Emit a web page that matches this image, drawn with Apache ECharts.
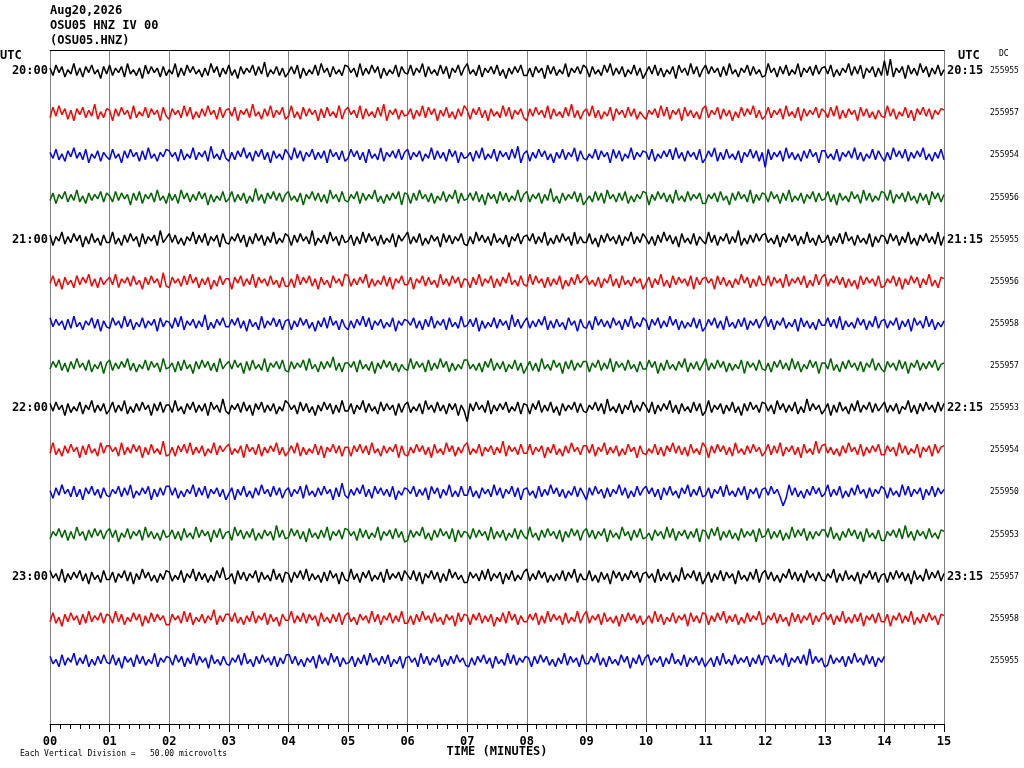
<!DOCTYPE html>
<html>
<head>
<meta charset="utf-8">
<title>OSU05 HNZ IV 00</title>
<script src="https://cdn.jsdelivr.net/npm/echarts@6.0.0/dist/echarts.min.js"></script>
<style>
  html, body { margin: 0; padding: 0; background: #fff; }
  #chart { width: 1024px; height: 768px; }
</style>
</head>
<body>
<div id="chart"></div>
<script>
// 标签
const minuteLabels = ['00', '01', '02', '03', '04', '05', '06', '07', '08', '09', '10', '11', '12', '13', '14', '15'];
const leftRowLabels = ['20:00', '', '', '', '21:00', '', '', '', '22:00', '', '', '', '23:00', '', '', ''];
const rightRowLabels = ['20:15', '', '', '', '21:15', '', '', '', '22:15', '', '', '', '23:15', '', '', ''];
const dcValues = ['255955', '255957', '255954', '255956', '255955', '255956', '255958', '255957',
    '255953', '255954', '255950', '255953', '255957', '255958', '255955', ''];
const traceColors = ['#000000', '#ff0000', '#0000ff', '#006400'];
// 每行时长（分钟）
const rowMinutes = [15, 15, 15, 15, 15, 15, 15, 15, 15, 15, 15, 15, 15, 15, 14];
// 每行间距对应的计数
const COUNTS_PER_ROW = 28;

// 各行振幅（读图估计，约每3秒一个点）
const row00 = [2,-3,4,-1,3,-4,1,-2,5,-3,2,-4,3,-1,4,-2,1,-5,3,-2,
    4,-3,2,-1,3,-4,5,-2,1,-3,2,-5,4,-2,3,-1,2,-4,3,-3,
    1,-2,5,-4,2,-3,4,-1,3,-2,1,-4,2,-3,5,-1,3,-4,2,-2,
    4,-3,1,-5,3,-2,2,-1,4,-3,3,-2,6,-4,1,-2,3,-3,2,-4,
    -1,3,-2,4,-5,2,-3,1,-2,4,-3,5,-1,2,-4,3,-2,1,-3,4,
    3,-1,2,-4,5,-3,2,-2,4,-1,3,-5,2,-3,1,-2,4,-4,3,-1,
    -2,4,-3,2,-1,5,-4,3,-2,1,-3,4,-2,3,-5,2,-1,4,-3,2,
    5,-2,1,-3,4,-4,2,-1,3,-2,4,-3,1,-5,2,-2,3,-1,4,-3,
    -3,2,-4,3,-1,2,-5,4,-2,3,-3,1,-2,5,-4,2,-1,3,-2,4,
    2,-4,3,-2,1,-3,4,-1,5,-3,2,-2,3,-4,1,-2,4,-3,2,-5,
    -1,3,-2,4,-3,2,-4,1,-2,3,-5,4,-1,2,-3,5,-2,3,-4,1,
    4,-2,3,-1,2,-4,3,-3,5,-2,1,-4,2,-1,4,-3,3,-2,1,-4,
    -3,5,-1,2,-4,3,-2,4,-3,1,-2,5,-4,2,-1,3,-3,4,-2,2,
    3,-2,4,-4,1,-3,2,-1,5,-3,3,-2,4,-5,2,-1,3,-4,2,-3,
    7,-3,8,-4,2,-1,3,-5,4,-2,2,-3,5,-1,3,-4,2,-2,4,-3,1];
const row01 = [-3,4,-2,5,-1,3,-4,2,-5,3,-1,4,-3,2,-2,6,-4,1,-3,3,
    2,-5,3,-2,4,-1,2,-4,5,-3,1,-2,4,-3,3,-1,2,-5,4,-2,
    -4,3,-1,2,-3,5,-2,4,-4,1,-3,3,-2,5,-1,2,-4,4,-3,2,
    3,-2,4,-5,2,-1,3,-3,6,-2,1,-4,3,-2,5,-3,2,-1,4,-4,
    -2,5,-3,1,-4,4,-2,3,-1,2,-5,3,-3,4,-2,1,-3,5,-4,2,
    4,-1,2,-3,5,-4,3,-2,1,-3,4,-2,6,-5,2,-1,3,-4,2,-2,
    -1,3,-4,2,-2,5,-3,4,-1,3,-5,2,-2,4,-3,1,-4,3,-2,5,
    2,-4,3,-1,4,-3,2,-5,3,-2,1,-3,5,-2,4,-4,2,-1,3,-3,
    -5,3,-2,4,-1,2,-3,5,-4,3,-2,1,-3,4,-2,6,-3,2,-4,1,
    3,-2,5,-3,2,-4,1,-2,4,-5,3,-1,2,-3,4,-2,3,-4,1,-2,
    -4,2,-1,3,-3,5,-2,4,-4,2,-1,3,-5,4,-2,2,-3,1,-4,3,
    5,-3,2,-1,4,-4,3,-2,2,-5,1,-3,4,-2,3,-1,5,-3,2,-4,
    -2,4,-3,2,-1,3,-4,5,-2,1,-3,4,-5,3,-2,2,-1,4,-3,3,
    1,-3,4,-2,5,-4,2,-3,3,-1,2,-5,4,-2,3,-3,1,-4,2,-2,
    -3,5,-2,3,-4,1,-2,4,-3,2,-5,3,-1,4,-2,3,-4,2,-1,3,2];
const row02 = [2,-2,4,-3,1,-4,3,-1,5,-2,2,-3,4,-5,1,-2,3,-4,2,-1,
    -3,4,-2,1,-5,3,-2,4,-1,2,-4,3,-3,5,-2,1,-4,2,-1,4,
    3,-1,2,-4,4,-3,1,-2,5,-3,2,-1,3,-4,6,-2,1,-3,4,-2,
    -4,2,-3,3,-1,5,-2,2,-4,3,-1,4,-3,2,-5,3,-2,1,-3,4,
    1,-3,5,-2,3,-4,2,-1,4,-3,2,-2,3,-5,4,-1,2,-3,3,-4,
    -2,4,-1,3,-3,2,-5,4,-2,1,-3,5,-4,2,-1,3,-2,4,-3,2,
    4,-3,2,-1,3,-4,1,-2,5,-3,3,-2,2,-4,4,-1,3,-5,2,-2,
    -1,2,-4,3,-2,5,-3,1,-2,4,-4,3,-1,2,-3,4,-2,6,-5,1,
    3,-4,2,-2,4,-1,3,-3,1,-5,2,-2,4,-3,2,-1,5,-4,3,-2,
    -3,1,-2,4,-3,3,-1,2,-5,4,-2,3,-4,1,-2,5,-3,2,-1,3,
    2,-3,4,-4,1,-2,3,-1,4,-3,5,-2,2,-4,3,-1,2,-3,4,-5,
    -2,3,-1,5,-4,2,-3,4,-2,1,-3,3,-5,2,-1,4,-2,3,-4,2,
    -8,4,-3,2,-1,3,-4,5,-2,2,-3,1,-4,3,-2,4,-1,2,-5,3,
    3,-2,1,-3,4,-4,2,-1,3,-2,5,-3,2,-4,1,-2,4,-3,3,-1,
    -4,2,-3,5,-1,3,-2,4,-4,2,-2,3,-1,5,-3,1,-4,2,-2,4,-3];
const row03 = [-2,3,-4,2,-1,4,-3,2,-2,5,-3,1,-4,3,-2,2,-1,4,-3,3,
    1,-3,4,-2,3,-1,2,-5,3,-2,4,-4,2,-1,3,-3,5,-2,1,-4,
    3,-2,2,-4,5,-1,3,-3,2,-2,4,-1,3,-5,2,-3,1,-2,4,-3,
    -1,4,-3,2,-2,3,-4,1,-3,6,-2,2,-4,3,-1,4,-2,3,-3,2,
    4,-2,1,-3,3,-5,2,-1,4,-2,3,-3,2,-4,5,-1,2,-3,4,-2,
    -3,2,-1,4,-4,3,-2,2,-1,5,-3,1,-4,2,-2,3,-1,4,-5,3,
    2,-4,3,-2,5,-1,2,-3,3,-4,1,-2,4,-3,2,-1,5,-4,3,-2,
    -1,3,-2,4,-3,2,-5,3,-1,2,-4,4,-2,3,-3,1,-2,5,-3,2,
    4,-3,2,-1,3,-4,2,-2,6,-3,1,-4,3,-2,2,-1,4,-3,3,-5,
    -2,1,-3,4,-2,3,-4,5,-1,2,-3,3,-2,4,-4,1,-3,2,-1,4,
    3,-5,2,-2,4,-1,3,-3,2,-4,5,-2,1,-3,4,-2,2,-1,3,-4,
    -4,2,-1,3,-3,4,-2,1,-5,3,-2,4,-1,2,-3,5,-4,2,-2,3,
    2,-3,4,-1,2,-4,3,-2,5,-3,1,-2,3,-4,2,-1,4,-3,3,-2,
    -1,4,-3,2,-5,3,-2,1,-3,4,-1,2,-4,5,-2,3,-3,1,-2,4,
    3,-2,5,-4,2,-1,3,-3,4,-2,1,-4,3,-2,2,-5,4,-1,3,-3,2];
const row04 = [3,-4,2,-1,5,-3,2,-2,4,-1,3,-5,2,-3,4,-2,1,-4,3,-2,
    -2,5,-3,1,-4,3,-2,4,-1,2,-5,4,-3,2,-1,3,-4,6,-2,1,
    4,-2,3,-3,1,-4,2,-1,5,-3,3,-2,4,-4,2,-1,3,-5,4,-2,
    -3,2,-1,4,-2,3,-5,2,-3,4,-1,3,-4,2,-2,5,-3,1,-2,4,
    2,-4,3,-2,4,-1,2,-3,6,-4,1,-2,3,-3,5,-1,2,-4,3,-2,
    -1,3,-4,2,-3,5,-2,4,-1,2,-4,3,-3,1,-2,4,-5,3,-1,2,
    5,-3,2,-2,4,-4,1,-3,3,-1,2,-5,4,-2,3,-3,2,-1,4,-3,
    -4,2,-3,5,-1,3,-2,2,-4,4,-2,1,-3,3,-5,2,-1,4,-3,2,
    3,-1,4,-3,2,-2,5,-4,1,-3,3,-2,4,-1,2,-4,5,-3,2,-2,
    -2,4,-3,1,-5,3,-2,4,-1,2,-3,3,-4,2,-1,5,-3,2,-2,4,
    1,-3,2,-4,3,-2,5,-1,3,-3,2,-5,4,-2,1,-3,4,-4,2,-1,
    -3,5,-2,3,-4,2,-1,4,-3,2,-2,6,-4,1,-3,3,-2,4,-1,3,
    4,-2,1,-3,3,-5,2,-2,4,-1,3,-4,2,-3,5,-2,1,-4,3,-2,
    -1,3,-4,2,-2,4,-3,5,-1,2,-4,3,-2,1,-3,4,-5,2,-2,3,
    2,-3,4,-1,3,-4,2,-2,5,-3,1,-4,3,-1,4,-2,2,-3,5,-4,2];
const row05 = [-1,4,-3,2,-5,3,-2,1,-4,4,-2,3,-1,5,-3,2,-4,3,-2,1,
    3,-2,5,-4,2,-1,3,-3,4,-2,1,-5,3,-2,4,-1,2,-4,6,-3,
    -4,3,-1,2,-3,4,-2,5,-1,3,-4,2,-2,3,-5,1,-3,4,-2,2,
    2,-5,3,-1,4,-3,2,-2,5,-4,3,-1,2,-3,4,-2,1,-4,3,-3,
    -3,2,-4,5,-2,3,-1,4,-3,2,-5,3,-2,1,-4,4,-1,2,-3,5,
    4,-3,2,-2,3,-1,5,-4,2,-3,1,-2,4,-3,3,-5,2,-1,4,-2,
    -2,3,-5,2,-1,4,-3,3,-2,1,-4,5,-2,2,-3,4,-1,3,-4,2,
    1,-4,3,-2,5,-3,2,-1,4,-4,2,-3,3,-1,6,-2,1,-3,4,-2,
    -3,5,-2,4,-1,2,-4,3,-3,2,-2,4,-5,1,-3,3,-2,5,-1,2,
    4,-2,1,-3,3,-4,2,-1,5,-3,2,-4,4,-2,1,-3,3,-1,2,-5,
    -1,3,-4,2,-2,5,-3,1,-4,4,-2,3,-1,2,-3,4,-5,3,-2,2,
    3,-1,2,-5,4,-2,3,-3,1,-4,2,-2,5,-1,3,-4,2,-3,4,-2,
    -2,4,-3,3,-1,2,-4,5,-3,2,-1,3,-2,4,-4,1,-3,5,-2,3,
    5,-3,2,-1,4,-2,3,-4,2,-3,1,-5,4,-2,3,-1,2,-3,4,-4,
    -3,2,-1,4,-3,3,-5,2,-2,4,-1,3,-4,2,-2,5,-3,1,-4,3,2];
const row06 = [4,-2,3,-1,2,-4,3,-3,5,-2,1,-4,2,-1,4,-3,3,-5,2,-2,
    -3,4,-1,2,-3,5,-2,3,-4,1,-2,4,-3,2,-1,3,-5,4,-2,2,
    1,-3,4,-2,5,-4,2,-1,3,-3,2,-2,6,-4,1,-3,3,-1,4,-2,
    -2,3,-1,4,-3,2,-5,3,-2,1,-4,5,-3,2,-1,4,-2,3,-4,2,
    3,-4,2,-2,4,-1,3,-3,1,-5,2,-2,4,-3,5,-1,2,-4,3,-2,
    -4,2,-3,3,-1,5,-2,4,-4,2,-1,3,-3,1,-2,4,-5,2,-1,3,
    2,-1,4,-3,2,-4,3,-2,5,-3,2,-1,3,-4,4,-2,1,-3,5,-2,
    -1,3,-2,4,-5,2,-3,1,-2,4,-3,3,-1,2,-4,6,-2,3,-3,1,
    4,-3,2,-2,3,-1,5,-4,2,-3,3,-2,1,-4,4,-1,2,-5,3,-2,
    -3,2,-4,5,-1,3,-2,2,-3,4,-1,2,-4,3,-2,5,-3,1,-2,4,
    2,-4,3,-1,4,-3,2,-2,5,-1,3,-4,2,-3,1,-2,4,-3,3,-5,
    -2,3,-1,4,-3,2,-4,5,-2,1,-3,3,-2,4,-4,2,-1,3,-3,2,
    5,-2,3,-4,2,-1,4,-3,1,-2,3,-5,4,-2,2,-3,1,-4,3,-1,
    -1,4,-2,3,-3,5,-4,2,-2,1,-3,4,-1,3,-4,2,-2,5,-3,2,
    3,-3,2,-1,4,-4,2,-2,3,-5,4,-1,2,-3,5,-2,3,-4,1,-2,2];
const row07 = [-2,3,-1,4,-3,2,-4,3,-2,5,-1,2,-3,4,-4,1,-2,3,-5,2,
    4,-3,2,-2,3,-1,5,-3,2,-4,1,-2,4,-3,3,-1,2,-4,5,-2,
    -1,2,-4,3,-3,4,-2,1,-5,3,-2,4,-1,3,-3,2,-4,5,-2,1,
    3,-2,4,-1,2,-5,3,-3,4,-2,1,-3,5,-4,2,-1,3,-2,4,-3,
    -4,3,-2,2,-1,4,-3,5,-2,1,-4,3,-2,3,-1,6,-3,2,-4,2,
    2,-1,3,-4,4,-2,1,-3,3,-5,2,-2,4,-1,3,-3,2,-4,1,-2,
    -3,5,-2,3,-1,2,-4,4,-3,2,-2,5,-1,3,-4,2,-3,1,-2,4,
    4,-2,1,-3,2,-4,3,-1,5,-3,2,-2,3,-4,1,-2,4,-3,2,-5,
    -1,3,-3,2,-4,5,-2,1,-3,4,-1,2,-5,3,-2,4,-3,2,-1,3,
    3,-4,2,-1,4,-3,2,-2,5,-4,3,-1,2,-3,4,-2,1,-4,3,-2,
    -2,4,-1,3,-5,2,-3,4,-2,1,-3,3,-1,5,-4,2,-2,3,-3,1,
    5,-3,2,-2,4,-1,3,-4,2,-3,1,-2,4,-5,3,-1,2,-3,4,-2,
    -3,2,-4,3,-1,4,-2,2,-3,5,-2,3,-4,1,-2,4,-1,3,-5,2,
    2,-2,5,-3,1,-4,3,-2,4,-1,2,-3,3,-4,2,-1,5,-3,2,-2,
    -4,3,-1,2,-3,4,-2,3,-5,2,-1,4,-3,2,-2,3,-1,4,-3,1,2];
const row08 = [3,-2,4,-1,2,-5,3,-3,1,-2,4,-4,2,-1,5,-3,2,-2,3,-4,
    -1,4,-3,2,-2,5,-4,1,-3,3,-2,4,-1,2,-5,3,-2,4,-3,2,
    2,-3,5,-2,1,-4,3,-1,4,-3,2,-2,3,-5,4,-1,2,-3,6,-2,
    -4,2,-1,3,-3,4,-2,2,-5,3,-1,4,-3,2,-2,3,-4,1,-2,5,
    3,-1,2,-4,4,-2,3,-3,1,-5,2,-2,4,-1,3,-4,2,-3,5,-2,
    -2,3,-4,2,-1,5,-3,3,-2,1,-4,4,-2,3,-1,2,-5,3,-3,2,
    4,-3,1,-2,3,-4,5,-1,2,-3,4,-2,2,-4,3,-1,3,-5,2,-2,
    -9,3,-2,4,-1,2,-3,5,-4,2,-2,3,-1,4,-3,1,-2,4,-4,3,
    2,-4,3,-1,5,-3,2,-2,4,-3,1,-5,3,-2,2,-1,4,-3,3,-2,
    -3,2,-1,4,-2,3,-4,6,-2,1,-3,3,-4,2,-1,5,-3,2,-2,4,
    1,-3,4,-4,2,-2,3,-1,5,-3,2,-4,3,-2,1,-3,4,-2,3,-5,
    -2,5,-3,2,-1,3,-4,2,-2,4,-3,1,-5,3,-2,4,-1,2,-3,4,
    3,-2,2,-4,5,-1,3,-3,2,-2,4,-4,1,-3,6,-2,3,-1,2,-4,
    -1,3,-5,2,-3,4,-2,1,-4,3,-2,5,-3,2,-1,4,-3,3,-2,1,
    4,-3,2,-2,3,-4,1,-1,5,-3,2,-4,3,-2,4,-1,2,-3,4,-2,3];
const row09 = [-2,5,-3,1,-4,3,-2,4,-1,2,-5,3,-3,4,-2,1,-4,5,-2,3,
    3,-1,2,-4,5,-3,2,-2,4,-1,3,-5,2,-3,4,-2,1,-3,6,-4,
    -3,2,-4,3,-1,4,-2,5,-3,2,-2,3,-4,1,-2,5,-3,3,-1,2,
    4,-3,1,-2,3,-5,4,-1,2,-3,4,-4,2,-2,3,-1,5,-3,2,-4,
    -1,3,-2,5,-4,2,-3,1,-2,4,-3,3,-5,2,-1,4,-2,3,-4,2,
    2,-4,3,-1,4,-2,3,-3,5,-2,1,-4,3,-2,2,-1,4,-5,3,-3,
    -4,2,-2,4,-1,3,-3,2,-5,4,-2,1,-3,5,-1,3,-4,2,-2,3,
    5,-3,1,-2,4,-4,2,-1,3,-3,2,-2,6,-4,3,-1,2,-3,4,-2,
    -2,4,-3,2,-1,3,-5,2,-2,4,-3,1,-4,3,-2,5,-1,2,-3,3,
    3,-2,4,-4,2,-1,5,-3,2,-2,3,-4,1,-3,4,-1,2,-5,3,-2,
    -3,1,-2,4,-3,2,-4,3,-1,5,-2,3,-3,2,-4,4,-2,1,-3,5,
    2,-5,3,-2,4,-1,3,-3,2,-4,5,-2,1,-3,3,-2,4,-1,2,-4,
    -1,4,-3,3,-2,5,-4,2,-1,3,-3,2,-5,4,-2,1,-3,6,-2,3,
    4,-2,2,-3,1,-4,3,-2,5,-1,2,-3,4,-4,2,-2,3,-1,4,-3,
    -3,3,-1,2,-4,5,-2,3,-3,1,-2,4,-5,2,-1,3,-4,4,-2,2,3];
const row10 = [1,-4,3,-2,5,-1,2,-3,4,-3,2,-5,3,-1,4,-2,2,-4,3,-2,
    -3,2,-1,4,-3,3,-2,5,-4,1,-2,3,-1,4,-5,2,-3,3,-2,4,
    4,-2,3,-4,1,-3,2,-1,5,-3,3,-2,4,-4,2,-1,3,-3,2,-5,
    -1,3,-5,2,-2,4,-3,1,-4,3,-2,5,-1,2,-3,4,-2,3,-4,1,
    3,-3,2,-1,4,-4,5,-2,1,-3,3,-2,4,-1,2,-5,3,-3,6,-2,
    -4,2,-2,3,-1,5,-3,2,-4,4,-1,3,-2,2,-3,4,-5,1,-2,3,
    2,-1,4,-3,2,-2,3,-5,4,-1,3,-4,2,-2,5,-3,1,-3,4,-2,
    -2,4,-3,1,-4,3,-1,2,-3,5,-2,3,-4,2,-1,4,-3,3,-5,2,
    3,-2,1,-4,4,-3,2,-2,5,-1,3,-3,2,-4,1,-2,4,-3,3,-1,
    -5,3,-2,4,-1,2,-4,3,-3,2,-1,5,-2,3,-4,1,-3,4,-2,2,
    4,-1,3,-3,2,-5,3,-2,4,-2,1,-4,3,-1,5,-3,2,-2,4,-3,
    -2,3,-4,2,-1,4,-3,5,-2,1,-3,3,-2,4,-5,2,-1,3,-4,2,
    3,-2,4,-1,2,-3,-9,-4,5,-2,3,-3,1,-4,2,-2,4,-1,3,-3,
    -1,5,-3,2,-2,4,-4,1,-3,3,-2,5,-1,2,-4,3,-3,2,-1,4,
    2,-4,3,-2,1,-3,5,-2,4,-3,2,-1,3,-5,2,-2,4,-3,3,-1,2];
const row11 = [-3,2,-1,4,-2,3,-4,2,-3,5,-1,2,-4,3,-2,4,-1,3,-3,2,
    4,-2,3,-5,1,-2,4,-3,2,-1,3,-4,5,-2,2,-3,1,-4,3,-2,
    -1,3,-3,2,-4,4,-2,1,-3,5,-2,3,-1,2,-5,3,-2,4,-3,1,
    2,-4,5,-1,3,-3,2,-2,4,-4,1,-3,3,-1,2,-4,6,-2,3,-3,
    -2,4,-1,3,-3,2,-5,4,-2,1,-3,3,-2,5,-4,2,-1,3,-3,4,
    3,-1,2,-4,4,-2,3,-3,1,-2,5,-4,2,-1,3,-3,4,-2,2,-5,
    -4,3,-2,2,-1,5,-3,1,-4,3,-2,4,-1,2,-3,4,-5,3,-2,2,
    1,-3,4,-2,3,-1,2,-4,5,-3,2,-2,3,-4,1,-2,4,-3,3,-1,
    -3,5,-2,1,-4,3,-2,4,-1,2,-3,3,-5,2,-2,4,-1,3,-4,2,
    4,-2,3,-3,2,-1,4,-5,3,-2,1,-3,5,-1,2,-4,3,-2,4,-3,
    -2,1,-4,3,-1,2,-3,5,-2,4,-4,2,-1,3,-3,2,-2,4,-5,3,
    2,-3,4,-1,5,-4,2,-2,3,-3,1,-4,4,-2,2,-1,3,-5,4,-2,
    -1,4,-3,2,-2,3,-4,1,-3,5,-2,3,-1,4,-4,2,-3,2,-1,3,
    3,-2,5,-3,1,-4,2,-2,4,-1,3,-3,2,-5,4,-2,1,-3,3,-4,
    -4,2,-1,3,-2,4,-3,6,-2,2,-4,3,-1,2,-3,4,-2,1,-3,3,2];
const row12 = [4,-1,2,-3,5,-4,2,-2,3,-1,4,-3,2,-5,3,-2,1,-4,4,-2,
    -2,3,-4,2,-1,4,-3,3,-5,2,-2,5,-1,3,-3,1,-4,2,-2,4,
    3,-3,1,-2,4,-4,2,-1,5,-3,3,-2,2,-4,1,-3,4,-1,6,-2,
    -1,2,-5,4,-2,3,-3,2,-1,4,-4,3,-2,1,-3,5,-2,2,-4,3,
    2,-4,3,-1,4,-2,5,-3,2,-2,1,-4,3,-3,4,-1,2,-5,3,-2,
    -3,5,-2,2,-4,3,-1,4,-3,1,-2,3,-4,5,-2,2,-1,3,-3,4,
    1,-2,4,-3,3,-5,2,-1,4,-2,3,-4,2,-3,5,-1,3,-2,1,-4,
    -4,3,-1,2,-3,4,-2,5,-3,2,-1,3,-5,2,-2,4,-3,1,-2,3,
    5,-3,2,-2,4,-1,3,-4,1,-3,2,-2,4,-3,3,-1,5,-4,2,-2,
    -2,4,-3,1,-4,3,-2,2,-5,4,-1,3,-3,2,-2,4,-1,3,-4,2,
    3,-1,2,-4,5,-3,2,-2,3,-4,1,-3,6,-2,2,-1,4,-3,3,-5,
    -1,3,-4,2,-2,4,-3,3,-1,2,-5,4,-2,1,-3,3,-2,5,-4,2,
    4,-2,3,-3,1,-4,2,-1,5,-2,3,-3,2,-4,4,-1,2,-3,3,-2,
    -3,2,-1,5,-4,2,-3,4,-2,1,-3,3,-5,2,-1,4,-2,3,-4,1,
    2,-4,3,-2,4,-1,3,-3,2,-5,4,-2,1,-3,5,-2,3,-1,4,-3,2];
const row13 = [-2,4,-3,1,-5,3,-2,4,-1,2,-4,3,-3,5,-2,2,-1,4,-3,3,
    2,-3,5,-2,3,-4,1,-2,4,-1,3,-5,2,-3,4,-2,3,-1,2,-4,
    -4,3,-1,2,-3,5,-2,4,-4,1,-2,3,-3,2,-1,6,-4,2,-2,3,
    3,-2,4,-3,1,-4,2,-2,5,-3,2,-1,4,-4,3,-2,1,-5,3,-1,
    -1,5,-3,2,-2,4,-3,3,-1,2,-5,4,-2,1,-3,3,-2,4,-4,2,
    4,-2,1,-4,3,-1,2,-3,5,-2,3,-4,2,-1,4,-3,2,-2,5,-3,
    -3,2,-4,3,-2,5,-1,2,-3,4,-2,1,-4,3,-1,2,-5,4,-2,3,
    2,-4,3,-1,4,-3,2,-2,3,-5,1,-2,4,-3,5,-1,3,-4,2,-2,
    -2,3,-1,4,-4,2,-3,5,-2,3,-1,2,-4,4,-3,1,-2,5,-3,2,
    5,-3,2,-1,3,-4,4,-2,1,-3,2,-5,3,-2,4,-1,3,-3,2,-4,
    -1,2,-3,5,-2,3,-4,1,-2,4,-3,2,-1,3,-5,4,-2,2,-3,4,
    3,-4,2,-2,4,-1,5,-3,2,-2,3,-4,1,-3,4,-2,2,-1,5,-4,
    -3,2,-1,4,-3,3,-2,1,-5,4,-2,3,-3,2,-1,4,-4,2,-2,3,
    4,-1,3,-4,2,-2,5,-3,1,-3,3,-2,4,-5,2,-1,3,-3,4,-2,
    -2,3,-5,2,-1,4,-3,2,-2,5,-4,1,-3,3,-2,4,-1,2,-4,3,2];
const row14 = [3,-2,1,-4,4,-3,2,-1,5,-3,2,-2,4,-4,1,-3,3,-2,4,-1,
    -2,4,-3,2,-5,3,-1,2,-4,4,-2,3,-3,1,-2,5,-4,2,-1,3,
    2,-3,4,-1,3,-4,2,-2,5,-3,3,-1,2,-5,4,-2,1,-3,3,-2,
    -3,2,-1,4,-3,5,-2,1,-4,3,-2,4,-1,2,-3,3,-4,2,-2,4,
    4,-2,3,-3,1,-4,2,-1,3,-5,4,-2,2,-3,5,-1,3,-4,2,-2,
    -1,3,-4,2,-2,4,-3,5,-1,2,-3,3,-2,4,-4,1,-2,3,-5,2,
    3,-1,2,-4,5,-2,3,-3,2,-1,4,-4,1,-3,3,-2,4,-1,2,-3,
    -4,2,-3,3,-1,4,-2,2,-5,3,-2,1,-3,5,-2,4,-3,2,-1,3,
    2,-4,3,-2,4,-1,3,-3,1,-4,2,-2,5,-3,3,-1,2,-4,4,-2,
    -2,3,-1,5,-3,2,-4,3,-2,1,-3,4,-1,3,-5,2,-2,4,-3,2,
    4,-3,2,-1,3,-4,2,-2,5,-2,1,-3,4,-4,2,-1,3,-3,2,-4,
    -1,2,-4,3,-3,5,-2,1,-3,4,-2,2,-1,3,-4,2,-2,4,-3,3,
    3,-2,4,-1,2,-3,5,-4,2,-1,3,-2,4,-3,8,-2,3,-1,2,-4,
    -3,4,-2,2,-1,3,-4,3,-2,5,-1,2,-3,4,-2,3,-4,2,-1,3];

const traces = [row00, row01, row02, row03, row04, row05, row06, row07,
    row08, row09, row10, row11, row12, row13, row14];

const monoFont = '"DejaVu Sans Mono", "Liberation Mono", monospace';

function buildSeries() {
    return traces.map(function (vals, i) {
        const dur = rowMinutes[i];
        const data = vals.map(function (v, j) {
            return [j * dur / (vals.length - 1), i + 0.5 - v / COUNTS_PER_ROW];
        });
        return {
            type: 'line',
            xAxisIndex: 0,
            yAxisIndex: 0,
            data: data,
            symbol: 'none',
            silent: true,
            animation: false,
            lineStyle: {
                color: traceColors[i % traceColors.length],
                width: 1.5
            }
        };
    });
}

function rowAxis(position, labels, offset, fontSize, bold, margin) {
    return {
        type: 'category',
        position: position,
        offset: offset,
        data: labels,
        inverse: true,
        boundaryGap: true,
        axisLine: { show: false },
        axisTick: { show: false },
        splitLine: { show: false },
        axisLabel: {
            interval: 0,
            margin: margin,
            color: '#000',
            fontFamily: monoFont,
            fontSize: fontSize,
            fontWeight: bold ? 'bold' : 'normal'
        }
    };
}

const option = {
    backgroundColor: '#fff',
    animation: false,
    grid: { left: 50, right: 80, top: 50, bottom: 44 },
    xAxis: [{
            type: 'value',
            position: 'bottom',
            min: 0,
            max: 15,
            interval: 1,
            name: 'TIME (MINUTES)',
            nameLocation: 'middle',
            nameGap: 22,
            nameMoveOverlap: false,
            nameTextStyle: { color: '#000', fontFamily: monoFont, fontSize: 12, fontWeight: 'bold' },
            axisLine: { show: true, onZero: false, lineStyle: { color: '#000', width: 1 } },
            axisTick: { show: true, length: 8, lineStyle: { color: '#000' } },
            minorTick: { show: true, splitNumber: 6, length: 5, lineStyle: { color: '#000' } },
            splitLine: { show: true, showMinLine: true, showMaxLine: true, lineStyle: { color: '#808080', width: 1 } },
            axisLabel: {
                margin: 12,
                color: '#000',
                fontFamily: monoFont,
                fontSize: 12,
                fontWeight: 'bold',
                formatter: function (v) { return minuteLabels[v]; }
            }
        },
        {
            type: 'value',
            position: 'top',
            min: 0,
            max: 15,
            axisLine: { show: true, onZero: false, lineStyle: { color: '#000', width: 1 } },
            axisTick: { show: false },
            minorTick: { show: false },
            axisLabel: { show: false },
            splitLine: { show: false }
        }
    ],
    yAxis: [{
            type: 'value',
            min: 0,
            max: 16,
            inverse: true,
            show: false
        },
        rowAxis('left', leftRowLabels, 0, 12, true, 2),
        rowAxis('right', rightRowLabels, 0, 12, true, 3),
        rowAxis('right', dcValues, 46, 8, false, 0)
    ],
    graphic: [
        { type: 'text', left: 50, top: 5, style: { text: 'Aug20,2026', font: 'bold 12px ' + monoFont, fill: '#000' } },
        { type: 'text', left: 50, top: 20, style: { text: 'OSU05 HNZ IV 00', font: 'bold 12px ' + monoFont, fill: '#000' } },
        { type: 'text', left: 50, top: 35, style: { text: '(OSU05.HNZ)', font: 'bold 12px ' + monoFont, fill: '#000' } },
        { type: 'text', left: 0, top: 50, style: { text: 'UTC', font: 'bold 12px ' + monoFont, fill: '#000' } },
        { type: 'text', left: 958, top: 50, style: { text: 'UTC', font: 'bold 12px ' + monoFont, fill: '#000' } },
        { type: 'text', left: 999, top: 50, style: { text: 'DC', font: '8px ' + monoFont, fill: '#000' } },
        { type: 'text', left: 20, top: 750, style: { text: 'Each Vertical Division =   50.00 microvolts', font: '8px ' + monoFont, fill: '#000' } }
    ],
    series: buildSeries()
};

const chart = echarts.init(document.getElementById('chart'), null, { renderer: 'canvas' });
chart.setOption(option);
</script>
</body>
</html>
